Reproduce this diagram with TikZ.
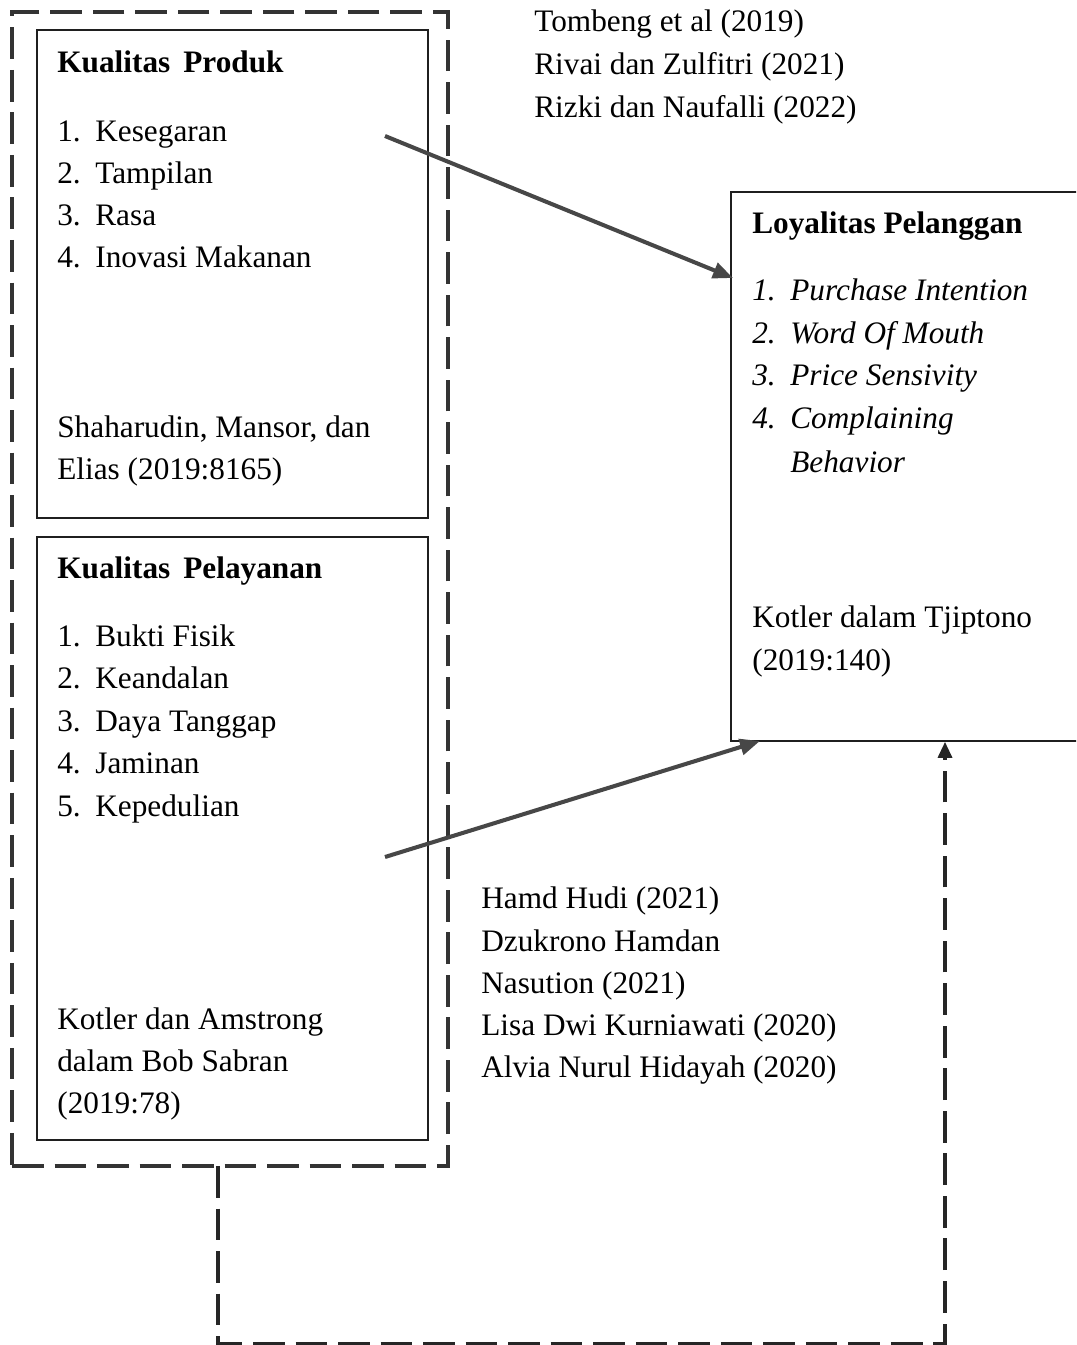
\documentclass[tikz,border=0pt]{standalone}
\usepackage{fontspec}
\setmainfont{Liberation Serif}
\usetikzlibrary{arrows.meta}

\tikzset{
  txt/.style={anchor=base west,inner sep=0pt,font=\fontsize{17.8}{21}\selectfont},
  box/.style={draw=black!88,line width=1pt,inner sep=0pt},
  dashbox/.style={draw=black!80,line width=1.9pt,dash pattern=on 18pt off 6.2pt},
  link/.style={draw=black!72,line width=2.3pt,-{Triangle[length=0.4cm,width=0.32cm]}},
  dashlink/.style={draw=black!85,line width=1.9pt,dash pattern=on 18pt off 6.2pt,
    -{Triangle[length=0.32cm,width=0.28cm]}}
}

\begin{document}
\begin{tikzpicture}[x=0.02cm,y=-0.02cm]
\clip (0,0) rectangle (1076,1345);
% Boxes
\node[dashbox,minimum width=8.72cm,minimum height=23.08cm] (outer) at (230,589) {};
\node[box,minimum width=7.82cm,minimum height=9.76cm] (produk) at (232.5,274) {};
\node[box,minimum width=7.82cm,minimum height=12.06cm] (layanan) at (232.5,838.5) {};
\node[box,minimum width=7.4cm,minimum height=10.98cm] (loyal) at (916,466.5) {};
% Kualitas Produk
\node[txt,font=\fontsize{17.8}{21}\selectfont\bfseries] (produkhead) at (57,72) {Kualitas\, Produk};
\foreach \t [count=\i] in {Kesegaran,Tampilan,Rasa,Inovasi Makanan} {
  \node[txt] (pn\i) at (57,{99+42*\i}) {\i.};
  \node[txt] (p\i) at (95,{99+42*\i}) {\t};
}
\node[txt] (produksrc1) at (57,437) {Shaharudin, Mansor, dan};
\node[txt] (produksrc2) at (57,479) {Elias (2019:8165)};
% Kualitas Pelayanan
\node[txt,font=\fontsize{17.8}{21}\selectfont\bfseries] (layananhead) at (57,578) {Kualitas\, Pelayanan};
\foreach \t [count=\i] in {Bukti Fisik,Keandalan,Daya Tanggap,Jaminan,Kepedulian} {
  \node[txt] (ln\i) at (57,{603.5+42.5*\i}) {\i.};
  \node[txt] (l\i) at (95,{603.5+42.5*\i}) {\t};
}
\node[txt] (layanansrc1) at (57,1029) {Kotler dan Amstrong};
\node[txt] (layanansrc2) at (57,1071) {dalam Bob Sabran};
\node[txt] (layanansrc3) at (57,1113) {(2019:78)};
% Loyalitas Pelanggan
\node[txt,font=\fontsize{17.8}{21}\selectfont\bfseries] (loyalhead) at (752,233) {Loyalitas Pelanggan};
\foreach \t [count=\i] in {Purchase Intention,Word Of Mouth,Price Sensivity,Complaining} {
  \node[txt,font=\fontsize{17.8}{21}\selectfont\itshape] (yn\i) at (752,{258+42.5*\i}) {\i.};
  \node[txt,font=\fontsize{17.8}{21}\selectfont\itshape] (y\i) at (790,{258+42.5*\i}) {\t};
}
\node[txt,font=\fontsize{17.8}{21}\selectfont\itshape] (y5) at (790,472) {Behavior};
\node[txt] (loyalsrc1) at (752,627) {Kotler dalam Tjiptono};
\node[txt] (loyalsrc2) at (752,670) {(2019:140)};
% References
\node[txt] (ref1) at (534,32) {Tombeng et al (2019)};
\node[txt] (ref2) at (534,75) {Rivai dan Zulfitri (2021)};
\node[txt] (ref3) at (534,117) {Rizki dan Naufalli (2022)};
\node[txt] (ref4) at (481,908) {Hamd Hudi (2021)};
\node[txt] (ref5) at (481,951) {Dzukrono Hamdan};
\node[txt] (ref6) at (481,993) {Nasution (2021)};
\node[txt] (ref7) at (481,1035) {Lisa Dwi Kurniawati (2020)};
\node[txt] (ref8) at (481,1077) {Alvia Nurul Hidayah (2020)};
% Arrows
\coordinate (a1) at (385,136);
\coordinate (b1) at (733,278);
\coordinate (a2) at (385,857);
\coordinate (b2) at (760,741);
\coordinate (d0) at (218,1166);
\coordinate (d1) at (945,1343.5);
\draw[link] (a1) -- (b1);
\draw[link] (a2) -- (b2);
\draw[dashlink] (d0) |- (d1) -- (loyal.south -| d1);
\end{tikzpicture}
\end{document}
